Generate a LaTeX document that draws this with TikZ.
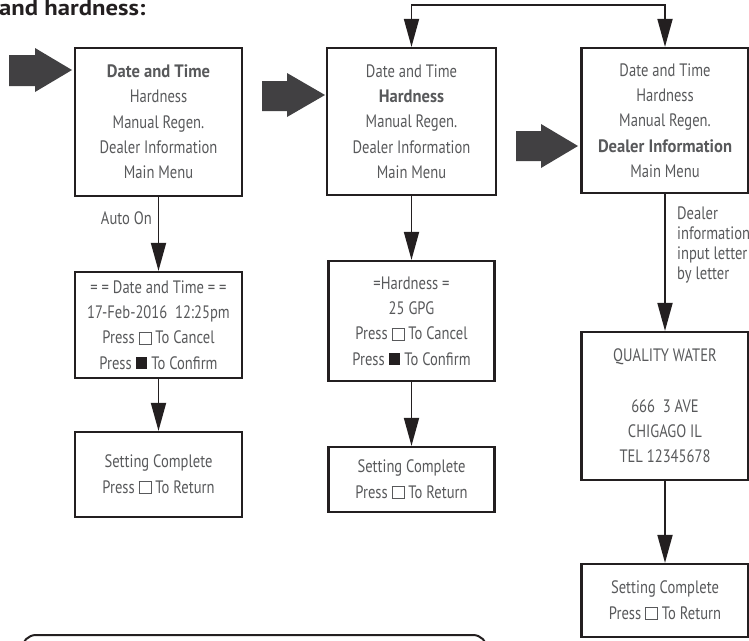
\documentclass[tikz,border=0pt]{standalone}
\usepackage{fontspec}
\setmainfont{PT Sans}[FakeStretch=0.81, BoldFeatures={FakeStretch=0.92}]
\usetikzlibrary{arrows.meta}
\definecolor{txt}{HTML}{58595B}
\definecolor{ln}{HTML}{231F20}
\definecolor{bigarrow}{HTML}{414042}
\newcommand{\wsq}{{\fboxsep=0pt\fboxrule=0.9pt\fbox{\rule{0pt}{0.62em}\rule{0.62em}{0pt}}}}
\newcommand{\bsq}{\textcolor{ln}{\rule{0.66em}{0.66em}}}
\tikzset{
  box/.style={draw=ln, line width=2.2pt, text=txt, align=center,
    font=\fontsize{18}{25.3}\selectfont, inner sep=0pt},
  conn/.style={draw=ln, line width=1.8pt, -{Triangle[length=28pt,width=15pt]}},
  lbl/.style={text=txt, font=\fontsize{18}{20}\selectfont, inner sep=0pt},
  bigarr/.style={fill=bigarrow}
}
\begin{document}
\begin{tikzpicture}[x=1pt,y=-1pt]
\useasboundingbox (0,0) rectangle (749,640);
% title
\node[anchor=base west, inner sep=0pt, text=ln, font=\bfseries\fontsize{22}{24}\selectfont] (title) at (-1,15) {\scalebox{1.22}[1]{and hardness:}};
% menu boxes
\node[box, minimum width=167pt, minimum height=148pt] (b1) at (158.5,122)
  {\textbf{Date and Time}\\Hardness\\Manual Regen.\\Dealer Information\\Main Menu};
\node[box, minimum width=169pt, minimum height=147pt] (b2) at (411.5,121.5)
  {Date and Time\\\textbf{Hardness}\\Manual Regen.\\Dealer Information\\Main Menu};
\node[box, minimum width=167pt, minimum height=145pt] (b3) at (665,120.5)
  {Date and Time\\Hardness\\Manual Regen.\\\textbf{Dealer Information}\\Main Menu};
% second row
\node[box, minimum width=167pt, minimum height=106pt] (b4) at (158.5,325)
  {= = Date and Time = =\\17-Feb-2016~~12:25pm\\Press \wsq{} To Cancel\\Press \bsq{} To Confirm};
\node[box, minimum width=166pt, minimum height=120pt] (b5) at (411.5,321)
  {=Hardness =\\25 GPG\\Press \wsq{} To Cancel\\Press \bsq{} To Confirm};
\node[box, minimum width=167pt, minimum height=148pt] (b6) at (665,406)
  {QUALITY WATER\\[25.3pt]666~~3 AVE\\CHIGAGO IL\\TEL 12345678};
% completion boxes
\node[box, minimum width=167pt, minimum height=85pt] (b7) at (158.5,474.5)
  {Setting Complete\\Press \wsq{} To Return};
\node[box, minimum width=166pt, minimum height=65pt] (b8) at (411.5,479.5)
  {Setting Complete\\Press \wsq{} To Return};
\node[box, minimum width=167pt, minimum height=73pt] (b9) at (665,600.5)
  {Setting Complete\\Press \wsq{} To Return};
% big arrows
\fill[bigarr] (9,55) -- (35,55) -- (35,48) -- (72,70) -- (35,92) -- (35,86) -- (9,86) -- cycle;
\fill[bigarr] (262,81) -- (287,81) -- (287,73) -- (325,95) -- (287,117) -- (287,111) -- (262,111) -- cycle;
\fill[bigarr] (516,131) -- (541,131) -- (541,124) -- (578,146) -- (541,168) -- (541,161) -- (516,161) -- cycle;
% connectors
\draw[conn] (b1) -- (b4);
\draw[conn] (b4) -- (b7);
\draw[conn] (b2) -- (b5);
\draw[conn] (b5) -- (b8);
\draw[conn] (b3) -- (b6);
\draw[conn] (b6) -- (b9);
\draw[draw=ln, line width=1.8pt, {Triangle[length=28pt,width=15pt]}-{Triangle[length=28pt,width=15pt]}]
  (b2.north) -- ++(0,-42) -| (b3.north);
% labels
\node[lbl, anchor=east] (auto) at (152,218) {Auto On};
\node[lbl, anchor=north west, align=left] (dealer) at (677,207) {Dealer\\information\\input letter\\by letter};
% bottom rounded frame
\draw[ln, line width=2pt, rounded corners=14pt] (22,635) rectangle (487,690);
\end{tikzpicture}
\end{document}
